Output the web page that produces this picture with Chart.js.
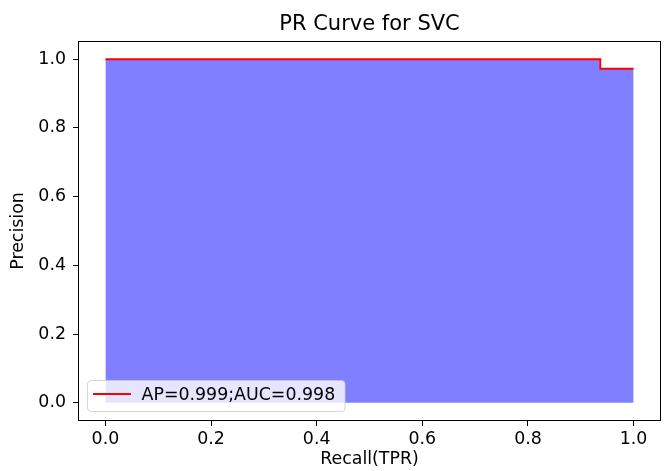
<!DOCTYPE html>
<html>
<head>
<meta charset="utf-8">
<script src="https://cdn.jsdelivr.net/npm/chart.js@4/dist/chart.umd.min.js"></script>
<style>
html,body{margin:0;padding:0;background:#fff;}
canvas{display:block;}
</style>
</head>
<body>
<canvas id="c" width="666" height="471"></canvas>
<script>
// Data
const recall = [0.0, 0.937, 0.937, 1.0];
const precision = [1.0, 1.0, 0.972, 0.972];
const xTicks = [0.0, 0.2, 0.4, 0.6, 0.8, 1.0];
const yTicks = [0.0, 0.2, 0.4, 0.6, 0.8, 1.0];
const legendLabel = 'AP=0.999;AUC=0.998';
const titleText = 'PR Curve for SVC';
const xLabel = 'Recall(TPR)';
const yLabel = 'Precision';

const FONT = "'DejaVu Sans', 'Liberation Sans', sans-serif";
const pts = recall.map((r, i) => ({x: r, y: precision[i]}));

const framePlugin = {
  id: 'frame',
  afterDatasetsDraw(chart) {
    const {ctx, chartArea: a} = chart;
    ctx.save();
    // legend
    const lx = 87.5, ly = 380.5, lw = 257.5, lh = 31, r = 3.5;
    ctx.beginPath();
    ctx.moveTo(lx + r, ly);
    ctx.lineTo(lx + lw - r, ly);
    ctx.arcTo(lx + lw, ly, lx + lw, ly + r, r);
    ctx.lineTo(lx + lw, ly + lh - r);
    ctx.arcTo(lx + lw, ly + lh, lx + lw - r, ly + lh, r);
    ctx.lineTo(lx + r, ly + lh);
    ctx.arcTo(lx, ly + lh, lx, ly + lh - r, r);
    ctx.lineTo(lx, ly + r);
    ctx.arcTo(lx, ly, lx + r, ly, r);
    ctx.closePath();
    ctx.fillStyle = 'rgba(255,255,255,0.8)';
    ctx.fill();
    ctx.strokeStyle = 'rgba(204,204,204,0.8)';
    ctx.lineWidth = 1;
    ctx.stroke();
    ctx.beginPath();
    ctx.moveTo(93, 394);
    ctx.lineTo(131, 394);
    ctx.strokeStyle = '#ff0000';
    ctx.lineWidth = 1.9;
    ctx.stroke();
    ctx.fillStyle = '#000';
    ctx.font = '17.4px ' + FONT;
    ctx.textBaseline = 'alphabetic';
    ctx.textAlign = 'left';
    ctx.fillText(legendLabel, 141.5, 399.5);
    // frame
    ctx.strokeStyle = '#000';
    ctx.lineWidth = 1;
    ctx.strokeRect(Math.round(a.left) - 0.5, Math.round(a.top) - 0.5,
                   Math.round(a.right - a.left) + 1, Math.round(a.bottom - a.top) + 1);
    ctx.restore();
  }
};

new Chart(document.getElementById('c'), {
  type: 'line',
  data: {
    datasets: [
      {
        label: legendLabel,
        data: pts,
        borderColor: '#ff0000',
        borderWidth: 1.9,
        pointRadius: 0,
        fill: false,
        order: 0
      },
      {
        label: 'fill',
        data: pts,
        borderWidth: 0,
        borderColor: 'rgba(0,0,0,0)',
        backgroundColor: 'rgba(0,0,255,0.5)',
        pointRadius: 0,
        fill: 'origin',
        order: 1
      }
    ]
  },
  options: {
    responsive: false,
    animation: false,
    devicePixelRatio: 1,
    layout: {padding: {left: 0, right: 6, top: 0, bottom: 0}},
    plugins: {
      legend: {display: false},
      tooltip: {enabled: false},
      title: {
        display: true,
        text: titleText,
        fullSize: false,
        color: '#000',
        font: {family: FONT, size: 21, weight: 'normal', lineHeight: 1.2},
        padding: {top: 12, bottom: 4.8}
      }
    },
    scales: {
      x: {
        type: 'linear',
        min: -0.05,
        max: 1.05,
        afterBuildTicks: s => { s.ticks = xTicks.map(v => ({value: v})); },
        afterFit: s => { s.height = 51; },
        border: {display: false},
        grid: {drawOnChartArea: false, drawTicks: true, tickLength: 6, color: '#000', lineWidth: 1},
        ticks: {
          color: '#000',
          padding: 3,
          maxRotation: 0,
          font: {family: FONT, size: 17.4},
          callback: v => Number(v).toFixed(1)
        },
        title: {
          display: true,
          text: xLabel,
          color: '#000',
          font: {family: FONT, size: 17.4, lineHeight: 1.2},
          padding: {top: 0, bottom: 1}
        }
      },
      y: {
        type: 'linear',
        min: -0.05,
        max: 1.05,
        afterBuildTicks: s => { s.ticks = yTicks.map(v => ({value: v})); },
        afterFit: s => { s.width = 79; },
        border: {display: false},
        grid: {drawOnChartArea: false, drawTicks: true, tickLength: 6, color: '#000', lineWidth: 1},
        ticks: {
          color: '#000',
          padding: 7,
          font: {family: FONT, size: 17.4},
          callback: v => Number(v).toFixed(1)
        },
        title: {
          display: true,
          text: yLabel,
          color: '#000',
          font: {family: FONT, size: 17.4, lineHeight: 1.2},
          padding: {top: 8, bottom: 0}
        }
      }
    }
  },
  plugins: [framePlugin]
});
</script>
</body>
</html>
